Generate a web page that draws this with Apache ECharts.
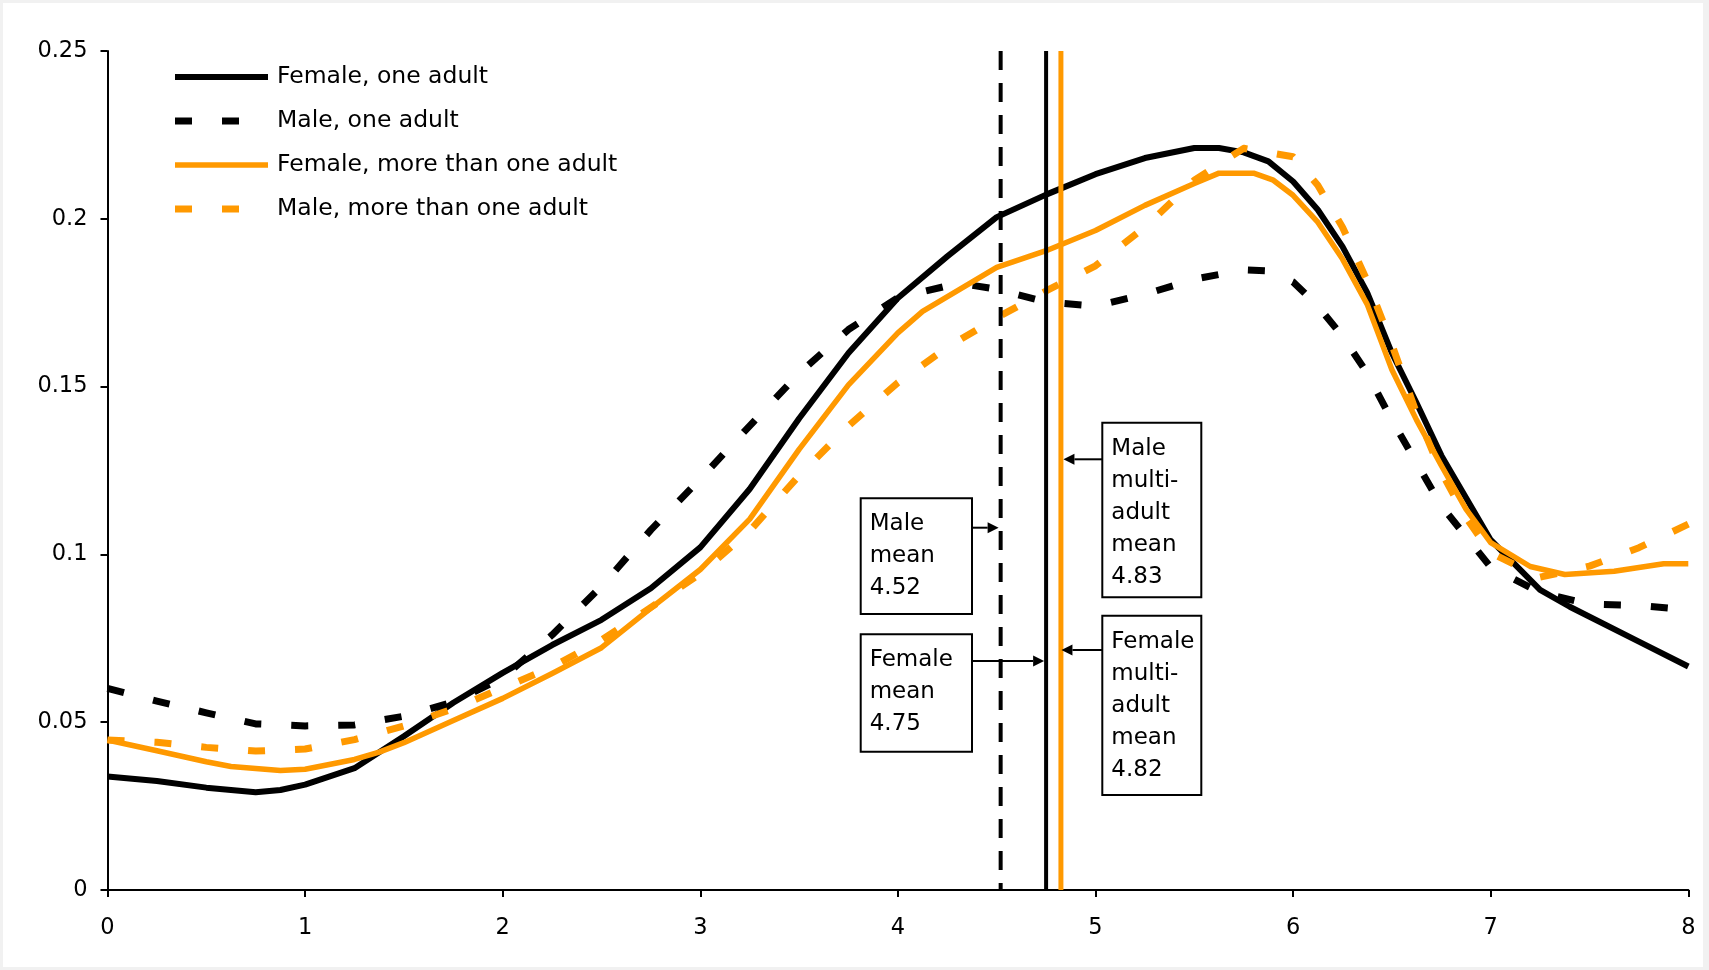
<!DOCTYPE html>
<html><head><meta charset="utf-8">
<script src="https://cdn.jsdelivr.net/npm/echarts@6/dist/echarts.min.js"></script>
<style>
html,body{margin:0;padding:0;background:#f1f1f1;overflow:hidden;}
#c{position:absolute;left:3px;top:3px;width:1700px;height:964px;background:#fff;}
</style></head><body><div id="c"></div>
<script>
// ---------------- data ----------------
const seriesNames = ['Female, one adult', 'Male, one adult', 'Female, more than one adult', 'Male, more than one adult'];

const femaleOneX = [0,0.25,0.5,0.75,0.875,1,1.25,1.5,1.75,2,2.25,2.5,2.75,3,3.25,3.5,3.75,4,4.25,4.5,4.75,5,5.25,5.5,5.625,5.75,5.875,6,6.125,6.25,6.375,6.5,6.625,6.75,7,7.25,7.4,7.75,8];
const femaleOneY = [0.0338,0.0325,0.0305,0.0291,0.0298,0.0314,0.0363,0.0458,0.0558,0.0647,0.0730,0.0805,0.0899,0.1021,0.1195,0.1405,0.1600,0.1764,0.1888,0.2005,0.2072,0.2133,0.2181,0.2211,0.2211,0.2198,0.2171,0.2111,0.2027,0.1917,0.1780,0.1600,0.1451,0.1295,0.1043,0.0894,0.0844,0.0740,0.0666];

const maleOneX = [0,0.25,0.5,0.75,1,1.25,1.5,1.75,2,2.25,2.5,2.75,3,3.25,3.5,3.75,4,4.25,4.375,4.5,4.75,5,5.25,5.5,5.75,5.875,6,6.125,6.25,6.375,6.5,6.75,7,7.25,7.5,7.75,8];
const maleOneY = [0.0601,0.0563,0.0528,0.0495,0.0489,0.0492,0.0518,0.0560,0.0632,0.0760,0.0905,0.1073,0.1225,0.1383,0.1540,0.1670,0.1765,0.1800,0.1802,0.1790,0.1752,0.1740,0.1775,0.1820,0.1848,0.1845,0.1812,0.1740,0.1650,0.1540,0.1400,0.1145,0.0962,0.0886,0.0852,0.0848,0.0835];

const femaleMultiX = [0,0.25,0.5,0.625,0.875,1,1.25,1.375,1.5,1.75,2,2.25,2.5,2.75,3,3.25,3.5,3.75,4,4.125,4.5,4.75,5,5.25,5.5,5.625,5.8,5.9,6,6.125,6.25,6.375,6.5,6.625,6.75,6.875,7,7.2,7.375,7.625,7.875,8];
const femaleMultiY = [0.0447,0.0415,0.0382,0.0368,0.0356,0.0360,0.0389,0.0411,0.0439,0.0505,0.0571,0.0645,0.0722,0.0840,0.0955,0.1105,0.1313,0.1505,0.1660,0.1724,0.1855,0.1905,0.1965,0.2040,0.2105,0.2136,0.2136,0.2115,0.2070,0.1990,0.1880,0.1745,0.1550,0.1400,0.1265,0.1135,0.1035,0.0964,0.0940,0.0950,0.0972,0.0972];

const maleMultiX = [0,0.25,0.5,0.75,1,1.25,1.5,1.75,2,2.25,2.5,2.75,3,3.25,3.5,3.75,4,4.25,4.5,4.75,5,5.25,5.5,5.75,6,6.125,6.25,6.375,6.5,6.625,6.75,6.875,7,7.25,7.5,7.75,8];
const maleMultiY = [0.0447,0.0440,0.0425,0.0414,0.0420,0.0448,0.0489,0.0540,0.0602,0.0664,0.0745,0.0842,0.0943,0.1070,0.1235,0.1383,0.1512,0.1617,0.1705,0.1785,0.1860,0.1975,0.2115,0.2210,0.2185,0.2100,0.1975,0.1815,0.1625,0.1420,0.1245,0.1110,0.1005,0.0932,0.0965,0.1020,0.1090];

const meanNames = ['Male mean', 'Female mean', 'Male multi-adult mean', 'Female multi-adult mean'];
const meanValues = [4.52, 4.75, 4.83, 4.82];
const meanTexts = [['Male','mean','4.52'], ['Female','mean','4.75'], ['Male','multi-','adult','mean','4.83'], ['Female','multi-','adult','mean','4.82']];

const xTicks = ['0','1','2','3','4','5','6','7','8'];
const yTicks = ['0','0.05','0.1','0.15','0.2','0.25'];

// ---------------- styles / layout ----------------
const ORANGE = '#FF9900';
const FONT = '"DejaVu Sans", sans-serif';
const curveStyles = [
  {color:'#000', width:6, type:'solid'},
  {color:'#000', width:7, type:[17,30]},
  {color:ORANGE, width:5.5, type:'solid'},
  {color:ORANGE, width:7, type:[17,30]}
];
const meanLineStyles = [
  {color:'#000', width:4, type:[19,13]},
  {color:'#000', width:4, type:'solid'},
  {color:ORANGE, width:3, type:'solid'},
  {color:ORANGE, width:3, type:'solid'}
];
// annotation boxes in pixels (container coords)
const boxLayout = [
  {x:857.7, y:495.3, w:111.3, h:115.7, arrowY:524.7},
  {x:857.7, y:631.3, w:111.3, h:117.4, arrowY:658},
  {x:1099.3, y:419.7, w:99, h:174.6, arrowY:456.3},
  {x:1099.3, y:612.7, w:99, h:179.3, arrowY:647}
];

function pairs(xs, ys){ return xs.map((x,i)=>[x, ys[i]]); }
const curveData = [pairs(femaleOneX,femaleOneY), pairs(maleOneX,maleOneY), pairs(femaleMultiX,femaleMultiY), pairs(maleMultiX,maleMultiY)];

const chart = echarts.init(document.getElementById('c'), null, {renderer:'canvas'});

const series = [];
seriesNames.forEach((n,i)=>{
  series.push({
    name:n, type:'line', data:curveData[i], showSymbol:false, symbol:'none', smooth:false,
    lineStyle:{color:curveStyles[i].color, width:curveStyles[i].width, type:curveStyles[i].type, cap:'butt', join:'round'},
    itemStyle:{color:curveStyles[i].color},
    z: 2 + i*0.01, animation:false
  });
});
meanNames.forEach((n,i)=>{
  series.push({
    name:n, type:'line', data:[[meanValues[i], 0.25],[meanValues[i], 0]], showSymbol:false, symbol:'none',
    lineStyle:{color:meanLineStyles[i].color, width:meanLineStyles[i].width, type:meanLineStyles[i].type, cap:'butt'},
    z:3, animation:false, silent:true
  });
});

chart.setOption({
  animation:false,
  backgroundColor:'#fff',
  grid:{left:104.5, right:14.7, top:48, bottom:77, containLabel:false},
  legend:{
    data:seriesNames, orient:'vertical', left:168.5, top:62, padding:0,
    itemWidth:93, itemHeight:14, itemGap:20, selectedMode:false,
    itemStyle:{opacity:0},
    lineStyle:{width:'inherit', type:'inherit', cap:'butt'},
    textStyle:{fontFamily:FONT, fontSize:23.5, color:'#000', lineHeight:24, padding:[0,0,0,4]}
  },
  xAxis:{
    type:'value', min:0, max:8, interval:1,
    axisLine:{show:true, onZero:false, lineStyle:{color:'#000', width:2}},
    axisTick:{show:true, length:7, inside:false, lineStyle:{color:'#000', width:2}},
    axisLabel:{fontFamily:FONT, fontSize:22.5, color:'#000', margin:27, formatter:(v)=>xTicks[Math.round(v)]},
    splitLine:{show:false}
  },
  yAxis:{
    type:'value', min:0, max:0.25, interval:0.05,
    axisLine:{show:true, lineStyle:{color:'#000', width:2}},
    axisTick:{show:true, length:7, inside:false, lineStyle:{color:'#000', width:2}},
    axisLabel:{fontFamily:FONT, fontSize:22.5, color:'#000', margin:20, formatter:(v)=>yTicks[Math.round(v/0.05)]},
    splitLine:{show:false}
  },
  series:series
});

// annotation boxes with arrows pointing at mean lines
const graphics = [];
meanTexts.forEach((lines,i)=>{
  const b = boxLayout[i];
  const lineX = chart.convertToPixel({xAxisIndex:0, yAxisIndex:0}, [meanValues[i], 0])[0];
  const half = meanLineStyles[i].width/2;
  graphics.push({type:'rect', shape:{x:b.x, y:b.y, width:b.w, height:b.h}, style:{fill:'#fff', stroke:'#000', lineWidth:2}, z:10});
  graphics.push({type:'text', x:b.x+9, y:b.y+10, style:{text:lines.join('\n'), font:'23px ' + FONT, fill:'#000', lineHeight:32, verticalAlign:'top'}, z:11});
  const boxLeftOfLine = b.x + b.w < lineX;
  const startX = boxLeftOfLine ? b.x + b.w : b.x;
  const tipX = boxLeftOfLine ? lineX - half : lineX + half;
  const dir = boxLeftOfLine ? 1 : -1;
  const baseX = tipX - dir*11;
  graphics.push({type:'line', shape:{x1:startX, y1:b.arrowY, x2:baseX, y2:b.arrowY}, style:{stroke:'#000', lineWidth:2}, z:10});
  graphics.push({type:'polygon', shape:{points:[[tipX,b.arrowY],[baseX,b.arrowY-5.5],[baseX,b.arrowY+5.5]]}, style:{fill:'#000'}, z:10});
});
chart.setOption({graphic:graphics});
</script></body></html>
